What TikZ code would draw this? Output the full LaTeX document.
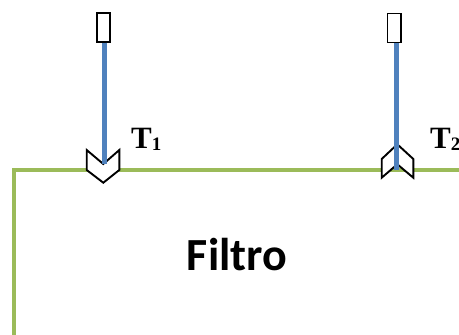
\documentclass[tikz,border=0pt]{standalone}
\usepackage{fontspec}
\setmainfont{Liberation Serif}
\newfontfamily\calibri{Carlito}
\definecolor{offgreen}{HTML}{9BBB59}
\definecolor{offblue}{HTML}{4F81BD}
\begin{document}
\begin{tikzpicture}[x=1pt,y=-1pt,
  greenline/.style={draw=offgreen,line width=4.6pt},
  blueline/.style={draw=offblue,line width=5pt},
  probe/.style={draw=black,fill=white,line width=1.8pt,minimum width=13.5pt,minimum height=29pt,inner sep=0pt},
  chev/.style={draw=black,fill=white,line width=1.9pt,line join=miter},
  tlabel/.style={font=\bfseries\fontsize{31}{31}\selectfont,inner sep=0pt,anchor=base west},
  boxlabel/.style={font=\calibri\bfseries\fontsize{46}{46}\selectfont,inner sep=0pt,anchor=base}]
\useasboundingbox (0,0) rectangle (459,335);
\clip (0,0) rectangle (459,335);
% filter box
\draw[greenline,line join=miter] (470,337.4) -- (14,337.4) -- (14,170) -- (470,170);
\node[boxlabel] (filtro) at (237,270) {Filtro};
% probes
\node[probe] (p1) at (103.5,27.2) {};
\node[probe] (p2) at (394.2,28) {};
% chevrons
\draw[chev] (86.7,150) -- (86.7,170) -- (103.3,182.7) -- (119.3,170) -- (119.3,150) -- (103.3,164) -- cycle;
\coordinate (c1) at (104,164);
\draw[chev] (381.7,159) -- (381.7,177.7) -- (397.3,164.3) -- (413.3,177.7) -- (413.3,159) -- (397.3,144.3) -- cycle;
\coordinate (c2) at (396,170);
% blue lines
\draw[blueline] (p1.south -| c1) -- (c1);
\draw[blueline] (p2.south -| c2) -- (c2);
% labels
\node[tlabel] (t1) at (131,148) {T\raisebox{-2pt}{\fontsize{19}{19}\selectfont 1}};
\node[tlabel] (t2) at (430,148) {T\raisebox{-2pt}{\fontsize{19}{19}\selectfont 2}};
\end{tikzpicture}
\end{document}
